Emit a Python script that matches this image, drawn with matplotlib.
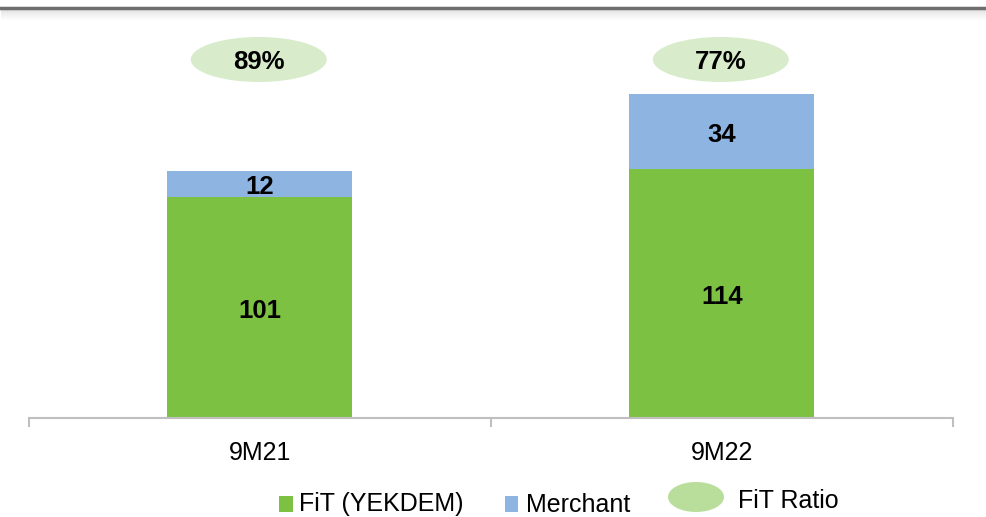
import matplotlib
matplotlib.use("Agg")
import matplotlib.pyplot as plt
from matplotlib.patches import Ellipse, Rectangle
from matplotlib.lines import Line2D

categories = ["9M21", "9M22"]
fit_values = [101, 114]
merchant_values = [12, 34]
legend_labels = ["FiT (YEKDEM)", "Merchant", "FiT Ratio"]

GREEN = "#7DC142"
BLUE = "#8EB4E2"
ELL = "#D8ECCB"
ELL_LEG = "#B9DD9A"
AXIS = "#BFBFBF"

plt.rcParams['font.family'] = ['Liberation Sans', 'DejaVu Sans']

W, H = 987, 517
fig = plt.figure(figsize=(W / 100, H / 100), dpi=100)

def fx(px):
    return px / W

def fy(py):
    return 1 - py / H

ax_left, ax_right, ax_base, ax_top = 28.7, 952.7, 418.0, 0.0
ax = fig.add_axes([fx(ax_left), fy(ax_base), fx(ax_right - ax_left), (ax_base - ax_top) / H])
ppu = 2.187
ax.set_xlim(-0.5, 1.5)
ax.set_ylim(0, (ax_base - ax_top) / ppu)

x = list(range(len(categories)))
ax.bar(x, fit_values, width=0.4, color=GREEN, zorder=2)
ax.bar(x, merchant_values, width=0.4, bottom=fit_values, color=BLUE, zorder=2)

def label(xv, yv, s, dy=-2.5):
    ax.annotate(s, (xv, yv), xytext=(0, dy), textcoords='offset points', ha='center',
                va='center', fontsize=18.5, fontweight='bold', color='black', zorder=3,
                annotation_clip=False)

for i in x:
    label(i, fit_values[i] / 2, str(fit_values[i]))
    label(i, fit_values[i] + merchant_values[i] / 2, str(merchant_values[i]))
    total = fit_values[i] + merchant_values[i]
    ratio = round(100 * fit_values[i] / total)
    cy = (ax_base - 59.5) / ppu
    ax.add_patch(Ellipse((i - 0.002, cy), 136 / 462, 45 / ppu, facecolor=ELL,
                         edgecolor='none', zorder=2, clip_on=False))
    label(i - 0.002, cy, f"{ratio}%", dy=-1.5)

for s in ['left', 'right', 'top']:
    ax.spines[s].set_visible(False)
ax.spines['bottom'].set_color(AXIS)
ax.spines['bottom'].set_linewidth(1.5)
ax.set_yticks([])
ax.set_xticks(x)
ax.set_xticklabels(categories, fontsize=18)
ax.tick_params(axis='x', which='major', length=0, pad=16.5, colors='black')
ax.set_xticks([-0.5, 0.5, 1.5], minor=True)
ax.tick_params(axis='x', which='minor', length=6.5, width=1.5, color=AXIS)

# top rule with shadow
for k, a in enumerate([0.10, 0.07, 0.05, 0.03, 0.015]):
    fig.add_artist(Line2D([fx(2), fx(985)], [fy(11 + 2 * k), fy(11 + 2 * k)],
                          color='black', alpha=a, linewidth=1.5))
fig.add_artist(Line2D([fx(1), fx(985)], [fy(8), fy(8)], color='#6E6E6E', linewidth=2.5))

# legend
base = 511.5
fig.add_artist(Rectangle((fx(279), fy(base)), fx(14), 16 / H, transform=fig.transFigure,
                         facecolor=GREEN, edgecolor='none'))
fig.text(fx(299), fy(base), legend_labels[0], fontsize=18, ha='left', va='baseline')
fig.add_artist(Rectangle((fx(505), fy(base)), fx(13), 16 / H, transform=fig.transFigure,
                         facecolor=BLUE, edgecolor='none'))
fig.text(fx(526), fy(base), legend_labels[1], fontsize=18, ha='left', va='baseline')
fig.add_artist(Ellipse((fx(696), fy(497)), fx(56), 30 / H, transform=fig.transFigure,
                       facecolor=ELL_LEG, edgecolor='none'))
fig.text(fx(738), fy(508), legend_labels[2], fontsize=18, ha='left', va='baseline')

fig.savefig("out.png", dpi=100)
